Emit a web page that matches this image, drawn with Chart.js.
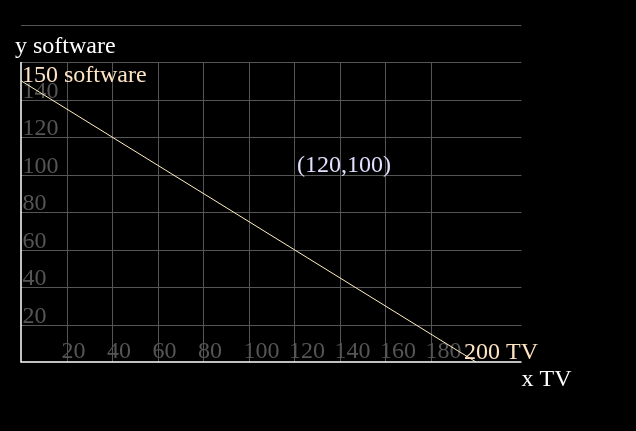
<!DOCTYPE html>
<html>
<head>
<meta charset="utf-8">
<script src="https://cdn.jsdelivr.net/npm/chart.js@4/dist/chart.umd.min.js"></script>
<style>
  html, body { margin: 0; padding: 0; background: #000; }
  #wrap { width: 636px; height: 431px; }
</style>
</head>
<body>
<div id="wrap"><canvas id="c" width="636" height="431"></canvas></div>
<script>
// budget line: software vs TV
const lineX = [0, 200];
const lineY = [150, 0];
const xTicks = [20, 40, 60, 80, 100, 120, 140, 160, 180];
const yTicks = [20, 40, 60, 80, 100, 120, 140];
const yGrid = [20, 40, 60, 80, 100, 120, 140, 160, 180];
const xMax = 220, yMax = 180, yAxisTop = 160;

const labelTexts = ['150 software', '200 TV', '(120,100)'];
const labelX = [0, 200, 120];
const labelY = [150, 0, 100];
const labelColors = ['#ffe4c4', '#ffe4c4', '#e0e0ff'];

const FONT = '24px "Liberation Serif", "DejaVu Serif", serif';

const gridPlugin = {
  id: 'grid',
  beforeDatasetsDraw(chart) {
    const ctx = chart.ctx;
    const xs = chart.scales.x, ys = chart.scales.y;
    const x0 = xs.getPixelForValue(0), x1 = xs.getPixelForValue(xMax);
    const y0 = ys.getPixelForValue(0);
    ctx.save();
    ctx.strokeStyle = '#555';
    ctx.lineWidth = 1;
    // horizontal lines
    yGrid.forEach(v => {
      const y = Math.round(ys.getPixelForValue(v)) + 0.5;
      ctx.beginPath(); ctx.moveTo(x0, y); ctx.lineTo(x1, y); ctx.stroke();
    });
    // vertical lines (stop at 160)
    const yt = ys.getPixelForValue(yAxisTop);
    xTicks.forEach(v => {
      const x = Math.round(xs.getPixelForValue(v)) + 0.5;
      ctx.beginPath(); ctx.moveTo(x, yt); ctx.lineTo(x, y0); ctx.stroke();
    });
    // axes
    ctx.strokeStyle = '#fff';
    ctx.lineWidth = 1.5;
    ctx.beginPath();
    ctx.moveTo(x0, yt); ctx.lineTo(x0, y0); ctx.lineTo(x1, y0);
    ctx.stroke();
    // tick labels
    ctx.font = FONT;
    ctx.fillStyle = '#555';
    ctx.textAlign = 'left';
    ctx.textBaseline = 'alphabetic';
    yTicks.forEach(v => {
      ctx.fillText(String(v), x0 + 1.5, ys.getPixelForValue(v) - 2);
    });
    xTicks.forEach(v => {
      ctx.fillText(String(v), xs.getPixelForValue(v) - 5, y0 - 4.5);
    });
    ctx.restore();
  },
  afterDatasetsDraw(chart) {
    const ctx = chart.ctx;
    const xs = chart.scales.x, ys = chart.scales.y;
    ctx.save();
    ctx.font = FONT;
    ctx.textAlign = 'left';
    ctx.textBaseline = 'alphabetic';
    const offs = [[1, 1], [-12, -3], [3, -3]];
    labelTexts.forEach((t, i) => {
      ctx.fillStyle = labelColors[i];
      ctx.fillText(t, xs.getPixelForValue(labelX[i]) + offs[i][0], ys.getPixelForValue(labelY[i]) + offs[i][1]);
    });
    // axis titles
    ctx.fillStyle = '#fff';
    ctx.fillText('y software', xs.getPixelForValue(0) - 6, ys.getPixelForValue(yAxisTop) - 9);
    ctx.fillText('x TV', xs.getPixelForValue(xMax), ys.getPixelForValue(0) + 24);
    ctx.restore();
  }
};

new Chart(document.getElementById('c'), {
  type: 'scatter',
  data: {
    datasets: [{
      data: lineX.map((x, i) => ({ x: x, y: lineY[i] })),
      showLine: true,
      borderColor: '#fff0c0',
      borderWidth: 1,
      pointRadius: 0
    }]
  },
  options: {
    responsive: false,
    animation: false,
    layout: { padding: { left: 21, top: 24.5, right: 114.5, bottom: 69 } },
    scales: {
      x: { type: 'linear', min: 0, max: xMax, display: false },
      y: { type: 'linear', min: 0, max: yMax, display: false }
    },
    plugins: { legend: { display: false }, tooltip: { enabled: false } }
  },
  plugins: [gridPlugin]
});
</script>
</body>
</html>
